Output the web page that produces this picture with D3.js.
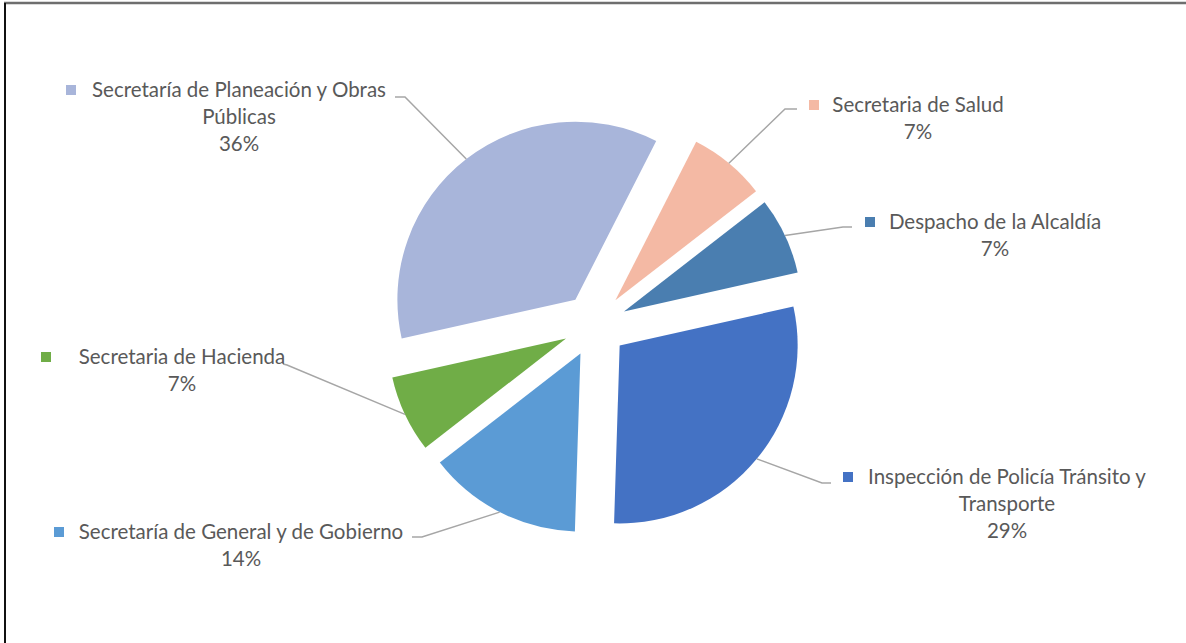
<!DOCTYPE html>
<html>
<head>
<meta charset="utf-8">
<script src="https://cdn.jsdelivr.net/npm/d3@7"></script>
<style>
  body { margin: 0; background: #fff; }
  svg { display: block; }
  text { font-family: Lato, 'Open Sans', sans-serif; fill: #595959; }
</style>
</head>
<body>
<div id="chart"></div>
<script>
// slices in clockwise order, starting near 12 o'clock
const categories = ['Secretaria de Salud', 'Despacho de la Alcaldía',
  'Inspección de Policía Tránsito y Transporte', 'Secretaría de General y de Gobierno',
  'Secretaria de Hacienda', 'Secretaría de Planeación y Obras Públicas']
const percents = [7, 7, 29, 14, 7, 36]
const colors = ['#F4B9A4', '#4A7EB0', '#4472C4', '#5B9BD5', '#70AD47', '#A8B5DA']
const labelLines = [['Secretaria de Salud'], ['Despacho de la Alcaldía'],
  ['Inspección de Policía Tránsito y', 'Transporte'], ['Secretaría de General y de Gobierno'],
  ['Secretaria de Hacienda'], ['Secretaría de Planeación y Obras', 'Públicas']]

// where the data labels sit (text centre x, first line y, key x, leader elbow, leader end)
const labelLayout = [
  { cx: 918, y: 105, key: 814, elbow: [785, 109], end: [797, 109] },
  { cx: 995, y: 222, key: 870, elbow: [843, 227], end: [852, 227] },
  { cx: 1007, y: 477, key: 848, elbow: [822, 483], end: [831, 483] },
  { cx: 241, y: 532, key: 59, elbow: [422, 537], end: [412, 537] },
  { cx: 182, y: 357, key: 46, elbow: [287, 365], end: [283, 364] },
  { cx: 239, y: 90, key: 71, elbow: [405, 97], end: [395, 97] }
]

const width = 1186
const height = 643
const center = { x: 595, y: 325 }
const radius = 178
const explode = 32
const lineH = 27
const startDeg = 27

const svg = d3.select('#chart')
  .append('svg')
  .attr('width', width)
  .attr('height', height)

// frame (only top and left edge show in the picture)
svg.append('line')
  .attr('x1', 4).attr('x2', width).attr('y1', 3).attr('y2', 3)
  .attr('stroke', '#6e6e6e').attr('stroke-width', 2.5)
svg.append('line')
  .attr('x1', 5).attr('x2', 5).attr('y1', 3).attr('y2', height)
  .attr('stroke', '#111').attr('stroke-width', 2)

const start = startDeg * Math.PI / 180
const pie = d3.pie().sort(null).value(d => d)
  .startAngle(start).endAngle(start + 2 * Math.PI)
const arcs = pie(percents)
const arc = d3.arc().innerRadius(0).outerRadius(radius)

function shift (d) {
  const a = (d.startAngle + d.endAngle) / 2
  return [center.x + Math.sin(a) * explode, center.y - Math.cos(a) * explode]
}

const g = svg.append('g')

g.selectAll('path')
  .data(arcs)
  .enter().append('path')
  .attr('d', arc)
  .attr('fill', (d, i) => colors[i])
  .attr('transform', d => {
    const p = shift(d)
    return 'translate(' + p[0] + ',' + p[1] + ')'
  })

// leader lines from the middle of each outer arc to the label
svg.selectAll('polyline.leader')
  .data(arcs)
  .enter().append('polyline')
  .attr('class', 'leader')
  .attr('fill', 'none')
  .attr('stroke', '#a6a6a6')
  .attr('stroke-width', 1.5)
  .attr('points', (d, i) => {
    const p = shift(d)
    const a = (d.startAngle + d.endAngle) / 2
    const s = [p[0] + Math.sin(a) * radius, p[1] - Math.cos(a) * radius]
    const L = labelLayout[i]
    return [s, L.elbow, L.end].map(q => q.join(',')).join(' ')
  })

const labels = svg.selectAll('g.label')
  .data(arcs)
  .enter().append('g')
  .attr('class', 'label')

labels.append('rect')
  .attr('x', (d, i) => labelLayout[i].key - 5)
  .attr('y', (d, i) => labelLayout[i].y - 5)
  .attr('width', 10)
  .attr('height', 10)
  .attr('fill', (d, i) => colors[i])

labels.each(function (d, i) {
  const L = labelLayout[i]
  const lines = labelLines[i].concat([percents[i] + '%'])
  d3.select(this).selectAll('text')
    .data(lines)
    .enter().append('text')
    .attr('x', L.cx)
    .attr('y', (t, j) => L.y + j * lineH)
    .attr('dy', '0.35em')
    .attr('text-anchor', 'middle')
    .style('font-size', '20.5px')
    .text(t => t)
})
</script>
</body>
</html>
